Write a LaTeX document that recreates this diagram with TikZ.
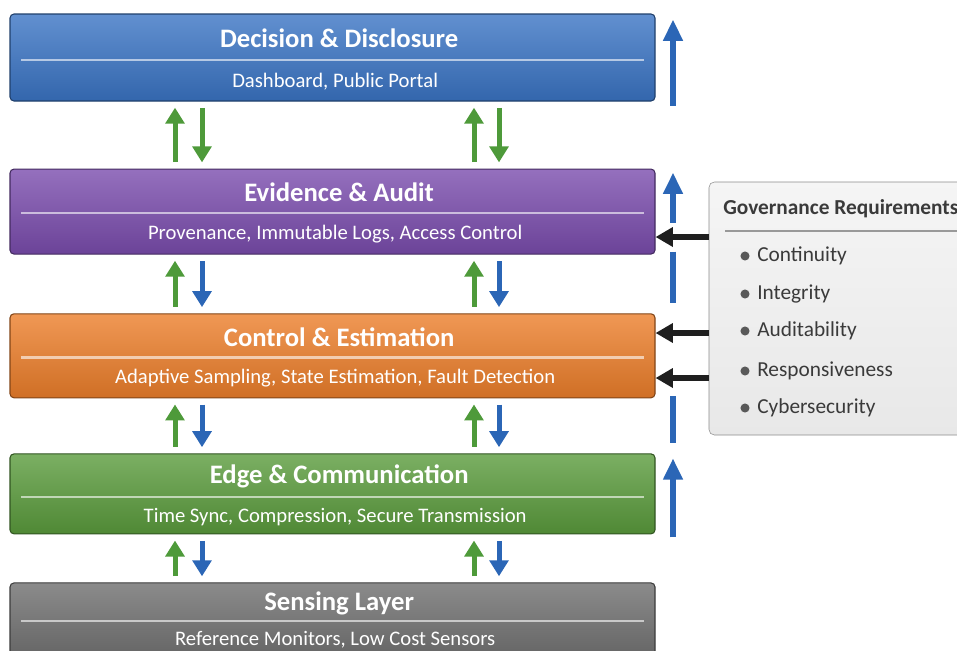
\documentclass[tikz,border=0pt]{standalone}
\usepackage{fontspec}
\setmainfont{Carlito}
\usetikzlibrary{arrows.meta,positioning,calc}

\definecolor{decblue}{HTML}{3A74C4}
\definecolor{evipurple}{HTML}{7A4CAD}
\definecolor{ctlorange}{HTML}{EC7E2A}
\definecolor{edgegreen}{HTML}{5A9B3C}
\definecolor{sensgray}{HTML}{6E6E6E}
\definecolor{arrgreen}{HTML}{4E9A3A}
\definecolor{arrblue}{HTML}{2B66B6}
\definecolor{govgray}{HTML}{3A3A3A}

\begin{document}
\begin{tikzpicture}
[x=0.75pt,y=-0.75pt,
 layer/.style={rectangle,rounded corners=3pt,thick,minimum width=483.75pt,
   draw=#1!55!black,top color=#1!80!white,bottom color=#1!88!black},
 ltitle/.style={font=\bfseries\fontsize{20}{24}\selectfont,text=white},
 lsub/.style={font=\fontsize{15.5}{18}\selectfont,text=white},
 rule/.style={draw=white,opacity=0.6,line width=1.6pt},
 pairarrow/.style={draw=#1,line width=3.75pt,-{Triangle[width=14pt,length=12pt]},
   shorten <=4.8pt,shorten >=4.6pt},
 railarrow/.style={draw=arrblue,line width=4.5pt,-{Triangle[width=14pt,length=16pt]}},
 railline/.style={draw=arrblue,line width=4.5pt},
 govarrow/.style={draw=black!88,line width=5pt,-{Triangle[width=14pt,length=13pt]}},
 govbox/.style={rectangle,rounded corners=4pt,draw=black!45,top color=black!4,bottom color=black!9},
 govtitle/.style={font=\bfseries\fontsize{16}{19}\selectfont,text=govgray,inner sep=0pt},
 govitem/.style={font=\fontsize{16}{19}\selectfont,text=govgray,inner sep=0pt}]
\useasboundingbox (0,0) rectangle (957,650);

% the five layers, top to bottom
\node[layer=decblue,minimum height=65.25pt] (decision) at (332.5,57.5) {};
\node[layer=evipurple,minimum height=63.75pt,below=50.25pt of decision] (evidence) {};
\node[layer=ctlorange,minimum height=63pt,below=44pt of evidence] (control) {};
\node[layer=edgegreen,minimum height=60pt,below=41.25pt of control] (edge) {};
\node[layer=sensgray,minimum height=62pt,below=36pt of edge] (sensing) {};

\foreach \lay/\k/\ttl/\sub in {
  decision/1.04/{Decision \& Disclosure}/{Dashboard, Public Portal},
  evidence/1.0/{Evidence \& Audit}/{Provenance, Immutable Logs, Access Control},
  control/0.99/{Control \& Estimation}/{Adaptive Sampling, State Estimation, Fault Detection},
  edge/0.97/{Edge \& Communication}/{Time Sync, Compression, Secure Transmission},
  sensing/0.87/{Sensing Layer}/{Reference Monitors, Low Cost Sensors}}
{
  \node[ltitle] (\lay-title) at ([xshift=5pt,yshift={-18pt*\k}]\lay.north) {\ttl};
  \draw[rule] ([xshift=9pt,yshift={-33.5pt*\k}]\lay.north west)
           -- ([xshift=-9pt,yshift={-33.5pt*\k}]\lay.north east);
  \node[lsub] (\lay-sub) at ([xshift=2pt,yshift={-49pt*\k}]\lay.north) {\sub};
}

% up/down exchange between neighbouring layers
\foreach \lo/\hi/\dn in {evidence/decision/arrgreen, control/evidence/arrblue,
                         edge/control/arrblue, sensing/edge/arrblue}
  \foreach \xu/\xd in {175/202, 474/499}
  {
    \draw[pairarrow=arrgreen] (\xu,0 |- \lo.north) -- (\xu,0 |- \hi.south);
    \draw[pairarrow=\dn] (\xd,0 |- \hi.south) -- (\xd,0 |- \lo.north);
  }

% governance panel
\node[govbox,minimum width=199.5pt,minimum height=189.75pt] (gov) at (842,308.5) {};
\node[govtitle,anchor=west] (gov-title) at (723,209) {Governance Requirements};
\draw[black!40,line width=1pt] (725,231) -- (975,231);
\foreach \item/\y in {Continuity/256, Integrity/294, Auditability/331,
                      Responsiveness/371, Cybersecurity/408}
{
  \fill[black!65] (745,\y) circle (3.4pt);
  \node[govitem,anchor=west] (gov-\item) at (757,\y) {\item};
}

% requirements pushed into the layers
\draw[govarrow] (gov.west |- 0,237) -- (evidence.east |- 0,237);
\draw[govarrow] (gov.west |- 0,333) -- (control.east |- 0,333);
\draw[govarrow] (gov.west |- 0,378) -- (control.east |- 0,378);

% upward rail on the right
\coordinate (rail) at (673,0);
\draw[railarrow] ($(decision.south -| rail)+(0,4)$) -- ($(decision.north -| rail)+(0,6)$);
\draw[railarrow] ($(evidence.center -| rail)+(0,11)$) -- ($(evidence.north -| rail)+(0,4)$);
\draw[railline] ($(evidence.south -| rail)+(0,-3)$) -- ($(control.north -| rail)+(0,-10)$);
\draw[railline] ($(control.south -| rail)+(0,-2)$) -- ($(edge.north -| rail)+(0,-10)$);
\draw[railarrow] ($(edge.south -| rail)+(0,3)$) -- ($(edge.north -| rail)+(0,5)$);
\end{tikzpicture}
\end{document}
